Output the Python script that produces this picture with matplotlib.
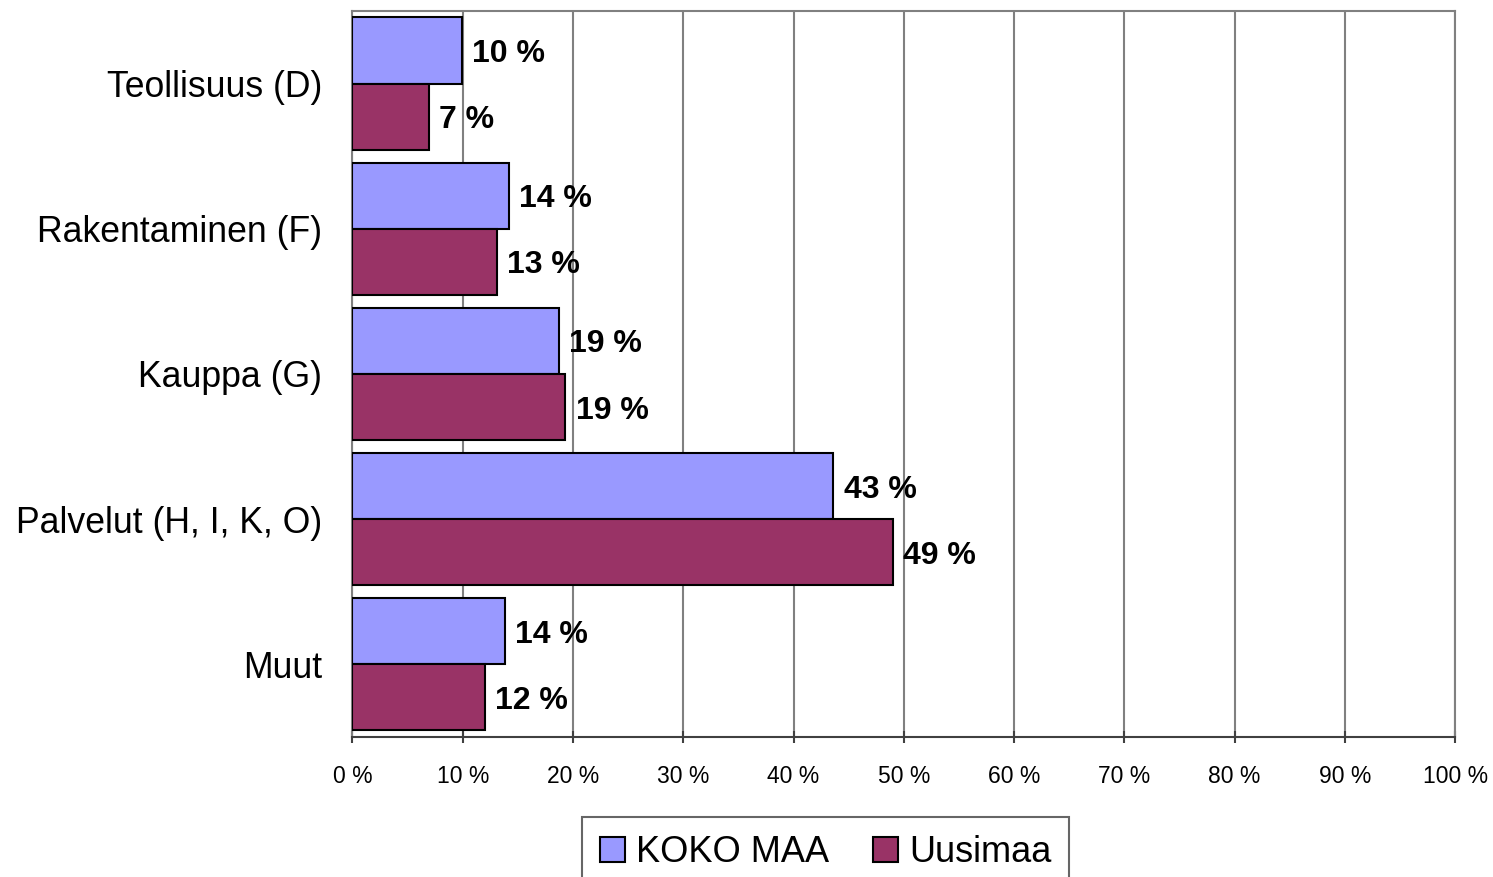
import numpy as np
import matplotlib.pyplot as plt
from matplotlib.ticker import FuncFormatter

plt.rcParams['font.family'] = ['Liberation Sans', 'DejaVu Sans']

# Data
categories = ['Teollisuus (D)', 'Rakentaminen (F)', 'Kauppa (G)', 'Palvelut (H, I, K, O)', 'Muut']
koko_maa = [9.9, 14.2, 18.7, 43.6, 13.8]
uusimaa = [6.9, 13.1, 19.3, 49.0, 12.0]
koko_labels = ['10 %', '14 %', '19 %', '43 %', '14 %']
uusi_labels = ['7 %', '13 %', '19 %', '49 %', '12 %']
series_names = ['KOKO MAA', 'Uusimaa']

fig = plt.figure(figsize=(14.93, 8.77), dpi=100)
ax = fig.add_axes([0.2361, 0.1596, 0.9746 - 0.2361, 0.9875 - 0.1596])

y = np.arange(len(categories))
h = 0.455
b1 = ax.barh(y - h / 2, koko_maa, height=h, color='#9999FF', edgecolor='black',
             linewidth=1.5, label=series_names[0], zorder=3)
b2 = ax.barh(y + h / 2, uusimaa, height=h, color='#993366', edgecolor='black',
             linewidth=1.5, label=series_names[1], zorder=3)

# Value labels to the right of each bar
for bars, labels in ((b1, koko_labels), (b2, uusi_labels)):
    for bar, lab in zip(bars, labels):
        ax.annotate(lab, (bar.get_width(), bar.get_y() + bar.get_height() / 2),
                    xytext=(7.5, -2.5), textcoords='offset points', ha='left', va='center',
                    fontsize=23, fontweight='bold', zorder=4)

ax.set_xlim(0, 100)
ax.set_ylim(len(categories) - 0.5, -0.5)
ax.set_xticks(np.arange(0, 101, 10))
ax.xaxis.set_major_formatter(FuncFormatter(lambda v, p: f'{int(v)} %'))
ax.set_yticks(y)
ax.set_yticklabels(categories, fontsize=25.7)
ax.tick_params(axis='y', length=0, pad=22)
ax.tick_params(axis='x', length=8, width=1.5, color='#404040', pad=16, labelsize=16.5,
               direction='inout')

ax.grid(axis='x', color='#808080', linewidth=1.5, zorder=0)
for side in ('top', 'right', 'left'):
    ax.spines[side].set_color('#808080')
    ax.spines[side].set_linewidth(1.5)
ax.spines['bottom'].set_color('#404040')
ax.spines['bottom'].set_linewidth(1.5)

leg = fig.legend(loc='upper center', bbox_to_anchor=(0.553, 0.068), ncol=2, fontsize=26,
                 frameon=True, fancybox=False, edgecolor='#404040', handlelength=0.7,
                 handleheight=0.7, handletextpad=0.3, columnspacing=1.2,
                 borderpad=0.5, borderaxespad=0)
leg.get_frame().set_linewidth(1.5)

fig.savefig('out.png', dpi=100)
